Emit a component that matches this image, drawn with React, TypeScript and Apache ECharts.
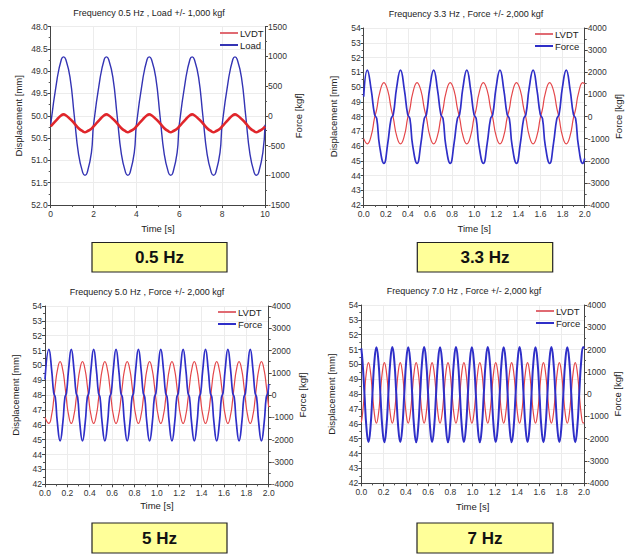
import React, { useEffect, useRef } from "react";
import * as echarts from "echarts";

// ---------- Chart 1 : 0.5 Hz, Load +/- 1,000 kgf ----------
const c1Time = [
  0, 0.3, 0.5, 0.6, 0.7, 0.9, 1.1, 1.3, 1.5, 1.6, 1.7, 1.9,
  2.0, 2.3, 2.5, 2.6, 2.7, 2.9, 3.1, 3.3, 3.5, 3.6, 3.7, 3.9,
  4.0, 4.3, 4.5, 4.6, 4.7, 4.9, 5.1, 5.3, 5.5, 5.6, 5.7, 5.9,
  6.0, 6.3, 6.5, 6.6, 6.7, 6.9, 7.1, 7.3, 7.5, 7.6, 7.7, 7.9,
  8.0, 8.3, 8.5, 8.6, 8.7, 8.9, 9.1, 9.3, 9.5, 9.6, 9.7, 9.9,
  10.0,
];
const c1Lvdt = [
  50.24, 50.08, 49.99, 49.97, 49.99, 50.07, 50.17, 50.28, 50.35, 50.37, 50.35, 50.29,
  50.24, 50.08, 49.99, 49.97, 49.99, 50.07, 50.17, 50.28, 50.35, 50.37, 50.35, 50.29,
  50.24, 50.08, 49.99, 49.97, 49.99, 50.07, 50.17, 50.28, 50.35, 50.37, 50.35, 50.29,
  50.24, 50.08, 49.99, 49.97, 49.99, 50.07, 50.17, 50.28, 50.35, 50.37, 50.35, 50.29,
  50.24, 50.08, 49.99, 49.97, 49.99, 50.07, 50.17, 50.28, 50.35, 50.37, 50.35, 50.29,
  50.24,
];
const c1Load = [
  -150, 620, 950, 990, 950, 650, 0, -650, -960, -1000, -960, -620,
  -150, 620, 950, 990, 950, 650, 0, -650, -960, -1000, -960, -620,
  -150, 620, 950, 990, 950, 650, 0, -650, -960, -1000, -960, -620,
  -150, 620, 950, 990, 950, 650, 0, -650, -960, -1000, -960, -620,
  -150, 620, 950, 990, 950, 650, 0, -650, -960, -1000, -960, -620,
  -150,
];

// ---------- Chart 2 : 3.3 Hz, Force +/- 2,000 kgf ----------
const c2Time = [
  0,
  0.033, 0.068, 0.098, 0.118, 0.143, 0.183, 0.218, 0.248, 0.268, 0.298,
  0.333, 0.368, 0.398, 0.418, 0.443, 0.483, 0.518, 0.548, 0.568, 0.598,
  0.633, 0.668, 0.698, 0.718, 0.743, 0.783, 0.818, 0.848, 0.868, 0.898,
  0.933, 0.968, 0.998, 1.018, 1.043, 1.083, 1.118, 1.148, 1.168, 1.198,
  1.233, 1.268, 1.298, 1.318, 1.343, 1.383, 1.418, 1.448, 1.468, 1.498,
  1.533, 1.568, 1.598, 1.618, 1.643, 1.683, 1.718, 1.748, 1.768, 1.798,
  1.833, 1.868, 1.898, 1.918, 1.943, 1.983, 2.0,
];
const c2Lvdt = [
  46.5,
  46.15, 46.7, 47.9, 48.5, 49.55, 50.3, 49.75, 48.55, 47.9, 46.7,
  46.15, 46.7, 47.9, 48.5, 49.55, 50.3, 49.75, 48.55, 47.9, 46.7,
  46.15, 46.7, 47.9, 48.5, 49.55, 50.3, 49.75, 48.55, 47.9, 46.7,
  46.15, 46.7, 47.9, 48.5, 49.55, 50.3, 49.75, 48.55, 47.9, 46.7,
  46.15, 46.7, 47.9, 48.5, 49.55, 50.3, 49.75, 48.55, 47.9, 46.7,
  46.15, 46.7, 47.9, 48.5, 49.55, 50.3, 49.75, 48.55, 47.9, 46.7,
  46.15, 46.7, 47.9, 48.5, 49.55, 50.3, 50.2,
];
const c2Force = [
  900,
  2100, 1200, 100, -100, -1300, -2120, -1200, -100, 100, 1300,
  2100, 1200, 100, -100, -1300, -2120, -1200, -100, 100, 1300,
  2100, 1200, 100, -100, -1300, -2120, -1200, -100, 100, 1300,
  2100, 1200, 100, -100, -1300, -2120, -1200, -100, 100, 1300,
  2100, 1200, 100, -100, -1300, -2120, -1200, -100, 100, 1300,
  2100, 1200, 100, -100, -1300, -2120, -1200, -100, 100, 1300,
  2100, 1200, 100, -100, -1300, -2120, -1900,
];

// ---------- Chart 3 : 5.0 Hz, Force +/- 2,000 kgf ----------
const c3Time = [
  0,
  0.035, 0.06, 0.078, 0.092, 0.11, 0.135, 0.16, 0.178, 0.192, 0.21,
  0.235, 0.26, 0.278, 0.292, 0.31, 0.335, 0.36, 0.378, 0.392, 0.41,
  0.435, 0.46, 0.478, 0.492, 0.51, 0.535, 0.56, 0.578, 0.592, 0.61,
  0.635, 0.66, 0.678, 0.692, 0.71, 0.735, 0.76, 0.778, 0.792, 0.81,
  0.835, 0.86, 0.878, 0.892, 0.91, 0.935, 0.96, 0.978, 0.992, 1.01,
  1.035, 1.06, 1.078, 1.092, 1.11, 1.135, 1.16, 1.178, 1.192, 1.21,
  1.235, 1.26, 1.278, 1.292, 1.31, 1.335, 1.36, 1.378, 1.392, 1.41,
  1.435, 1.46, 1.478, 1.492, 1.51, 1.535, 1.56, 1.578, 1.592, 1.61,
  1.635, 1.66, 1.678, 1.692, 1.71, 1.735, 1.76, 1.778, 1.792, 1.81,
  1.835, 1.86, 1.878, 1.892, 1.91, 1.935, 1.96, 1.978, 1.992, 2.0,
];
const c3Lvdt = [
  46.5,
  46.1, 46.7, 47.7, 48.65, 49.65, 50.25, 49.65, 48.65, 47.7, 46.7,
  46.1, 46.7, 47.7, 48.65, 49.65, 50.25, 49.65, 48.65, 47.7, 46.7,
  46.1, 46.7, 47.7, 48.65, 49.65, 50.25, 49.65, 48.65, 47.7, 46.7,
  46.1, 46.7, 47.7, 48.65, 49.65, 50.25, 49.65, 48.65, 47.7, 46.7,
  46.1, 46.7, 47.7, 48.65, 49.65, 50.25, 49.65, 48.65, 47.7, 46.7,
  46.1, 46.7, 47.7, 48.65, 49.65, 50.25, 49.65, 48.65, 47.7, 46.7,
  46.1, 46.7, 47.7, 48.65, 49.65, 50.25, 49.65, 48.65, 47.7, 46.7,
  46.1, 46.7, 47.7, 48.65, 49.65, 50.25, 49.65, 48.65, 47.7, 46.7,
  46.1, 46.7, 47.7, 48.65, 49.65, 50.25, 49.65, 48.65, 47.7, 46.7,
  46.1, 46.7, 47.7, 48.65, 49.65, 50.25, 49.65, 48.65, 47.7, 47.2,
];
const c3Force = [
  700,
  2050, 1100, 100, -100, -1200, -2050, -1200, -100, 100, 1100,
  2050, 1100, 100, -100, -1200, -2050, -1200, -100, 100, 1100,
  2050, 1100, 100, -100, -1200, -2050, -1200, -100, 100, 1100,
  2050, 1100, 100, -100, -1200, -2050, -1200, -100, 100, 1100,
  2050, 1100, 100, -100, -1200, -2050, -1200, -100, 100, 1100,
  2050, 1100, 100, -100, -1200, -2050, -1200, -100, 100, 1100,
  2050, 1100, 100, -100, -1200, -2050, -1200, -100, 100, 1100,
  2050, 1100, 100, -100, -1200, -2050, -1200, -100, 100, 1100,
  2050, 1100, 100, -100, -1200, -2050, -1200, -100, 100, 1100,
  2050, 1100, 100, -100, -1200, -2050, -1200, -100, 100, 500,
];

// ---------- Chart 4 : 7.0 Hz, Force +/- 2,000 kgf ----------
const c4Time = [
  0,
  0.0107, 0.0286, 0.0464, 0.0643, 0.0821, 0.1000, 0.1179, 0.1357,
  0.1536, 0.1714, 0.1893, 0.2071, 0.2250, 0.2429, 0.2607, 0.2786,
  0.2964, 0.3143, 0.3321, 0.3500, 0.3679, 0.3857, 0.4036, 0.4214,
  0.4393, 0.4571, 0.4750, 0.4929, 0.5107, 0.5286, 0.5464, 0.5643,
  0.5821, 0.6000, 0.6179, 0.6357, 0.6536, 0.6714, 0.6893, 0.7071,
  0.7250, 0.7429, 0.7607, 0.7786, 0.7964, 0.8143, 0.8321, 0.8500,
  0.8679, 0.8857, 0.9036, 0.9214, 0.9393, 0.9571, 0.9750, 0.9929,
  1.0107, 1.0286, 1.0464, 1.0643, 1.0821, 1.1000, 1.1179, 1.1357,
  1.1536, 1.1714, 1.1893, 1.2071, 1.2250, 1.2429, 1.2607, 1.2786,
  1.2964, 1.3143, 1.3321, 1.3500, 1.3679, 1.3857, 1.4036, 1.4214,
  1.4393, 1.4571, 1.4750, 1.4929, 1.5107, 1.5286, 1.5464, 1.5643,
  1.5821, 1.6000, 1.6179, 1.6357, 1.6536, 1.6714, 1.6893, 1.7071,
  1.7250, 1.7429, 1.7607, 1.7786, 1.7964, 1.8143, 1.8321, 1.8500,
  1.8679, 1.8857, 1.9036, 1.9214, 1.9393, 1.9571, 1.9750, 1.9929,
  2.0,
];
const c4Lvdt = [
  46.1,
  46.65, 48.08, 49.52, 50.12, 49.52, 48.08, 46.65, 46.05,
  46.65, 48.08, 49.52, 50.12, 49.52, 48.08, 46.65, 46.05,
  46.65, 48.08, 49.52, 50.12, 49.52, 48.08, 46.65, 46.05,
  46.65, 48.08, 49.52, 50.12, 49.52, 48.08, 46.65, 46.05,
  46.65, 48.08, 49.52, 50.12, 49.52, 48.08, 46.65, 46.05,
  46.65, 48.08, 49.52, 50.12, 49.52, 48.08, 46.65, 46.05,
  46.65, 48.08, 49.52, 50.12, 49.52, 48.08, 46.65, 46.05,
  46.65, 48.08, 49.52, 50.12, 49.52, 48.08, 46.65, 46.05,
  46.65, 48.08, 49.52, 50.12, 49.52, 48.08, 46.65, 46.05,
  46.65, 48.08, 49.52, 50.12, 49.52, 48.08, 46.65, 46.05,
  46.65, 48.08, 49.52, 50.12, 49.52, 48.08, 46.65, 46.05,
  46.65, 48.08, 49.52, 50.12, 49.52, 48.08, 46.65, 46.05,
  46.65, 48.08, 49.52, 50.12, 49.52, 48.08, 46.65, 46.05,
  46.65, 48.08, 49.52, 50.12, 49.52, 48.08, 46.65, 46.05,
  46.1,
];
const c4Force = [
  2050,
  1490, 0, -1510, -2150, -1510, 0, 1490, 2100,
  1490, 0, -1520, -2160, -1510, 0, 1490, 2110,
  1490, 0, -1510, -2150, -1510, 0, 1490, 2100,
  1490, 0, -1520, -2160, -1510, 0, 1490, 2110,
  1490, 0, -1510, -2150, -1510, 0, 1490, 2100,
  1490, 0, -1520, -2160, -1510, 0, 1490, 2110,
  1490, 0, -1510, -2150, -1510, 0, 1490, 2100,
  1490, 0, -1520, -2160, -1510, 0, 1490, 2110,
  1490, 0, -1510, -2150, -1510, 0, 1490, 2100,
  1490, 0, -1520, -2160, -1510, 0, 1490, 2110,
  1490, 0, -1510, -2150, -1510, 0, 1490, 2100,
  1490, 0, -1520, -2160, -1510, 0, 1490, 2110,
  1490, 0, -1510, -2150, -1510, 0, 1490, 2100,
  1490, 0, -1520, -2160, -1510, 0, 1490, 2110,
  2050,
];

const titles = [
  "Frequency 0.5 Hz , Load +/- 1,000 kgf",
  "Frequency 3.3 Hz , Force +/- 2,000 kgf",
  "Frequency 5.0 Hz , Force +/- 2,000 kgf",
  "Frequency 7.0 Hz , Force +/- 2,000 kgf",
];
const boxLabels = ["0.5 Hz", "3.3 Hz", "5 Hz", "7 Hz"];
const forceNames = ["Load", "Force", "Force", "Force"];

const FONT = "'Liberation Sans', Arial, Helvetica, sans-serif";
const RED = "#e4474a";
const BLUE = "#2f2fc8";

function pairs(t: number[], v: number[]) {
  const n = Math.min(t.length, v.length);
  const out: number[][] = [];
  for (let i = 0; i < n; i++) out.push([t[i], v[i]]);
  return out;
}

export default function App() {
  const ref = useRef<HTMLDivElement>(null);

  useEffect(() => {
    if (!ref.current) return;
    const chart = echarts.init(ref.current, undefined, { renderer: "svg" });

    const grids = [
      { left: 50.7, top: 26.5, width: 214.3, height: 178.5 },
      { left: 363.7, top: 28, width: 221, height: 177 },
      { left: 45, top: 306, width: 223.7, height: 178.3 },
      { left: 361.3, top: 305, width: 222.7, height: 178.3 },
    ];
    const titlePos = [
      { x: 149, y: 8 },
      { x: 466, y: 9 },
      { x: 147, y: 287 },
      { x: 464, y: 286 },
    ];
    const legendPos = [
      { x: 220, y: 28 },
      { x: 535, y: 29 },
      { x: 218, y: 307 },
      { x: 536, y: 306 },
    ];
    const leftGap = [27, 25, 25, 25];
    const rightGap = [27, 25, 24, 28];
    const xGap = [18, 18, 16, 18];

    const axisLine = { show: true, onZero: false, lineStyle: { color: "#444", width: 1 } };
    const axisTick = { show: true, inside: false, length: 3, lineStyle: { color: "#444" } };
    const minorTick = { show: true, splitNumber: 2, length: 2, lineStyle: { color: "#555" } };
    const splitLine = { show: true, lineStyle: { color: "#ececec", width: 1 } };
    const labelStyle = { fontSize: 8.5, color: "#333", fontFamily: FONT };
    const nameStyle = { fontSize: 9.5, color: "#222", fontFamily: FONT };

    const xAxis: any[] = [];
    const yAxis: any[] = [];
    for (let i = 0; i < 4; i++) {
      const first = i === 0;
      xAxis.push({
        type: "value",
        gridIndex: i,
        min: 0,
        max: first ? 10 : 2,
        interval: first ? 2 : 0.2,
        axisLine,
        axisTick,
        minorTick,
        splitLine,
        axisLabel: {
          ...labelStyle,
          margin: 4,
          formatter: (v: number) => (first ? String(v) : v.toFixed(1)),
        },
        name: "Time [s]",
        nameLocation: "middle",
        nameGap: xGap[i],
        nameTextStyle: nameStyle,
      });
      yAxis.push({
        type: "value",
        gridIndex: i,
        position: "left",
        min: first ? 48 : 42,
        max: first ? 52 : 54,
        interval: first ? 0.5 : 1,
        inverse: first,
        axisLine,
        axisTick,
        minorTick,
        splitLine,
        axisLabel: {
          ...labelStyle,
          margin: 3,
          formatter: (v: number) => (first ? v.toFixed(1) : String(v)),
        },
        name: "Displacement [mm]",
        nameLocation: "middle",
        nameGap: leftGap[i],
        nameTextStyle: nameStyle,
      });
      yAxis.push({
        type: "value",
        gridIndex: i,
        position: "right",
        min: first ? -1500 : -4000,
        max: first ? 1500 : 4000,
        interval: first ? 500 : 1000,
        axisLine,
        axisTick,
        minorTick,
        splitLine: { show: false },
        axisLabel: { ...labelStyle, margin: 3, formatter: (v: number) => String(v) },
        name: "Force [kgf]",
        nameLocation: "middle",
        nameGap: rightGap[i],
        nameTextStyle: nameStyle,
      });
    }

    const lvdtData = [
      pairs(c1Time, c1Lvdt),
      pairs(c2Time, c2Lvdt),
      pairs(c3Time, c3Lvdt),
      pairs(c4Time, c4Lvdt),
    ];
    const forceData = [
      pairs(c1Time, c1Load),
      pairs(c2Time, c2Force),
      pairs(c3Time, c3Force),
      pairs(c4Time, c4Force),
    ];

    const series: any[] = [];
    for (let i = 0; i < 4; i++) {
      series.push({
        type: "line",
        name: "LVDT",
        xAxisIndex: i,
        yAxisIndex: i * 2,
        data: lvdtData[i],
        smooth: true,
        symbol: "none",
        lineStyle: { color: i === 0 ? "#e0262b" : RED, width: i === 0 ? 2.6 : 1.2 },
        itemStyle: { color: i === 0 ? "#e06a72" : RED },
        z: i === 0 ? 3 : 2,
      });
      series.push({
        type: "line",
        name: forceNames[i],
        xAxisIndex: i,
        yAxisIndex: i * 2 + 1,
        data: forceData[i],
        smooth: true,
        symbol: "none",
        lineStyle: { color: i === 0 ? "#3434b4" : BLUE, width: i === 0 ? 1.4 : i === 3 ? 2 : 1.7 },
        itemStyle: { color: i === 0 ? "#3434b4" : BLUE },
        z: i === 0 ? 2 : 3,
      });
    }

    const title = titles.map((t, i) => ({
      text: t,
      left: titlePos[i].x,
      top: titlePos[i].y,
      textAlign: "center",
      padding: 0,
      textStyle: { fontSize: 9, fontWeight: "normal", color: "#222", fontFamily: FONT },
    }));

    const legend = legendPos.map((p, i) => ({
      left: p.x,
      top: p.y,
      orient: "vertical",
      padding: 0,
      itemGap: 2,
      itemWidth: 18,
      itemHeight: 2,
      icon: "rect",
      selectedMode: false,
      data: ["LVDT", forceNames[i]],
      textStyle: { fontSize: 9.5, color: "#222", fontFamily: FONT, padding: [0, 0, 0, -3] },
    }));

    const boxes = [
      { x: 92, y: 242.5, w: 135, h: 29.5 },
      { x: 417.3, y: 242.5, w: 135.4, h: 29.5 },
      { x: 92, y: 523, w: 135, h: 30 },
      { x: 417, y: 523, w: 136, h: 30 },
    ];
    const graphic: any[] = [];
    boxes.forEach((b, i) => {
      graphic.push({
        type: "rect",
        shape: { x: b.x, y: b.y, width: b.w, height: b.h },
        style: { fill: "#ffff99", stroke: "#222", lineWidth: 1.2 },
        z: 10,
      });
      graphic.push({
        type: "text",
        x: b.x + b.w / 2,
        y: b.y + b.h / 2 + 0.5,
        style: {
          text: boxLabels[i],
          align: "center",
          verticalAlign: "middle",
          fontSize: 17,
          fontWeight: "bold",
          fontFamily: FONT,
          fill: "#111",
        },
        z: 11,
      });
    });

    chart.setOption({
      animation: false,
      backgroundColor: "#ffffff",
      title,
      legend,
      grid: grids.map((g) => ({ ...g, containLabel: false })),
      xAxis,
      yAxis,
      series,
      graphic,
    });

    return () => {
      chart.dispose();
    };
  }, []);

  return (
    <div
      ref={ref}
      style={{ position: "absolute", left: 0, top: 0, width: 626, height: 555, background: "#fff" }}
    />
  );
}
